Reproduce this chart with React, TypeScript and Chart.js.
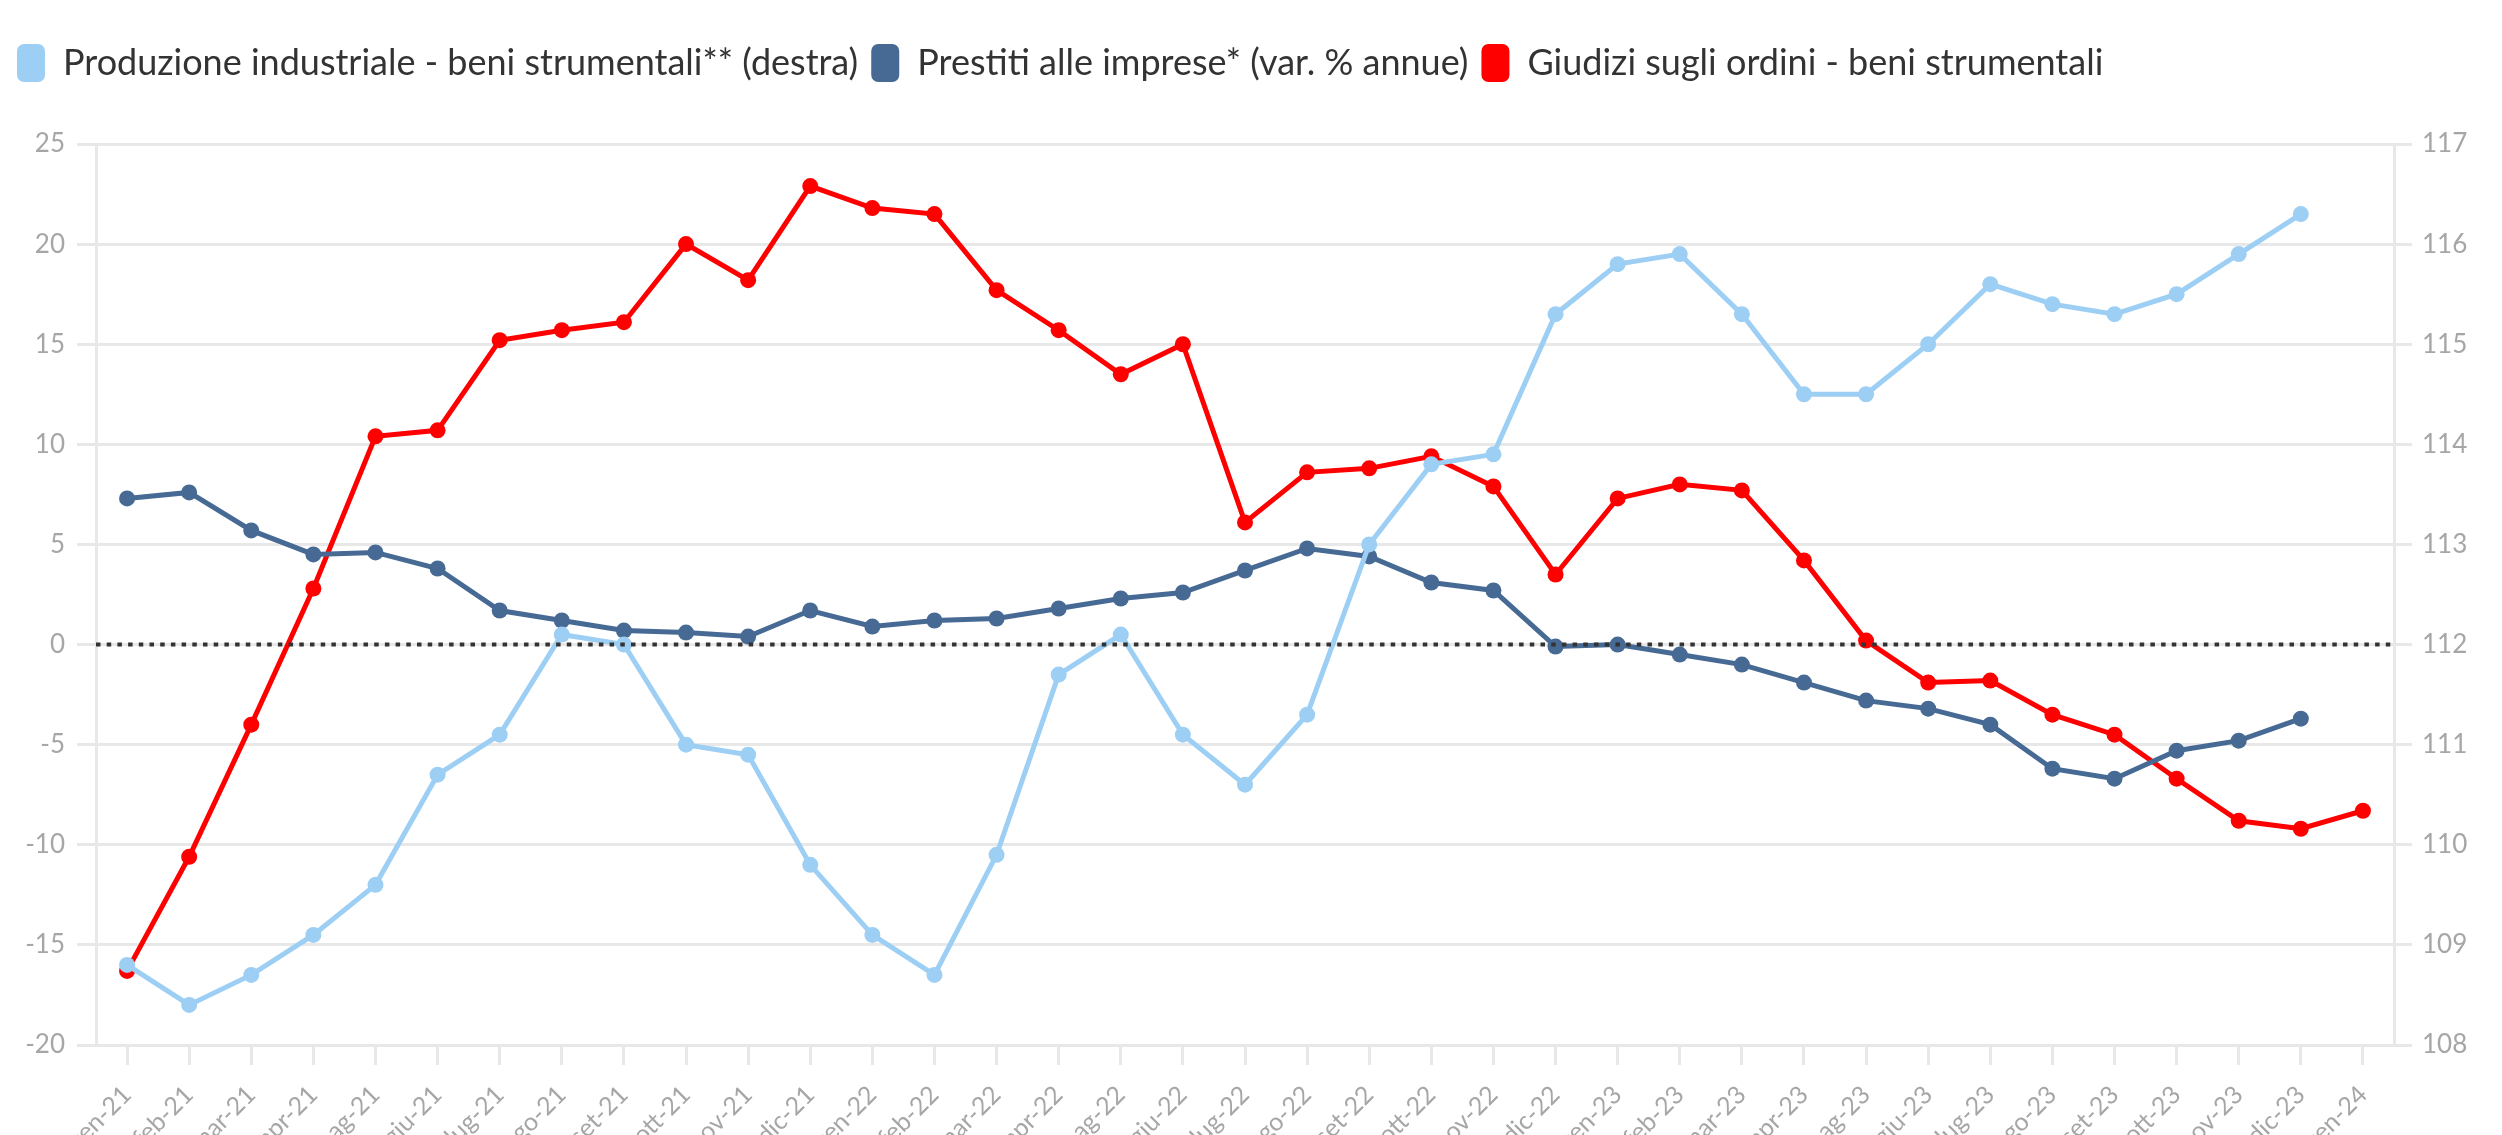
import React, { useEffect, useRef } from 'react';
import { Chart, registerables } from 'chart.js';

Chart.register(...registerables);

const categories = [
  'gen-21', 'feb-21', 'mar-21', 'apr-21', 'mag-21', 'giu-21', 'lug-21', 'ago-21', 'set-21', 'ott-21', 'nov-21', 'dic-21',
  'gen-22', 'feb-22', 'mar-22', 'apr-22', 'mag-22', 'giu-22', 'lug-22', 'ago-22', 'set-22', 'ott-22', 'nov-22', 'dic-22',
  'gen-23', 'feb-23', 'mar-23', 'apr-23', 'mag-23', 'giu-23', 'lug-23', 'ago-23', 'set-23', 'ott-23', 'nov-23', 'dic-23',
  'gen-24',
];

// Produzione industriale - beni strumentali (right axis)
const produzione = [
  108.8, 108.4, 108.7, 109.1, 109.6, 110.7, 111.1, 112.1, 112.0, 111.0, 110.9, 109.8,
  109.1, 108.7, 109.9, 111.7, 112.1, 111.1, 110.6, 111.3, 113.0, 113.8, 113.9, 115.3,
  115.8, 115.9, 115.3, 114.5, 114.5, 115.0, 115.6, 115.4, 115.3, 115.5, 115.9, 116.3,
  null,
];

// Prestiti alle imprese (left axis)
const prestiti = [
  7.3, 7.6, 5.7, 4.5, 4.6, 3.8, 1.7, 1.2, 0.7, 0.6, 0.4, 1.7,
  0.9, 1.2, 1.3, 1.8, 2.3, 2.6, 3.7, 4.8, 4.4, 3.1, 2.7, -0.1,
  0.0, -0.5, -1.0, -1.9, -2.8, -3.2, -4.0, -6.2, -6.7, -5.3, -4.8, -3.7,
  null,
];

// Giudizi sugli ordini - beni strumentali (left axis)
const giudizi = [
  -16.3, -10.6, -4.0, 2.8, 10.4, 10.7, 15.2, 15.7, 16.1, 20.0, 18.2, 22.9,
  21.8, 21.5, 17.7, 15.7, 13.5, 15.0, 6.1, 8.6, 8.8, 9.4, 7.9, 3.5,
  7.3, 8.0, 7.7, 4.2, 0.2, -1.9, -1.8, -3.5, -4.5, -6.7, -8.8, -9.2,
  -8.3,
];

const seriesLabels = [
  'Produzione industriale - beni strumentali** (destra)',
  'Prestiti alle imprese* (var. % annue)',
  'Giudizi sugli ordini - beni strumentali',
];

const FONT = 'Lato, "Noto Sans", sans-serif';
const GRID = '#e8e8e8';
const TICK = '#a6a6a6';

export default function App() {
  const ref = useRef<HTMLCanvasElement | null>(null);

  useEffect(() => {
    const canvas = ref.current;
    if (!canvas) return;

    const legendSpacer = {
      id: 'legendSpacer',
      beforeLayout(chart: any) {
        const lg = chart.legend;
        if (lg && !lg.__patched) {
          const f = lg.fit;
          lg.fit = function (this: any) {
            f.call(this);
            this.height += 52;
          };
          lg.__patched = true;
        }
      },
    };

    const zeroLine = {
      id: 'zeroLine',
      afterDatasetsDraw(chart: any) {
        const y = chart.scales.y.getPixelForValue(0);
        const { left, right } = chart.chartArea;
        const ctx = chart.ctx;
        ctx.save();
        ctx.strokeStyle = '#333333';
        ctx.lineWidth = 4;
        ctx.setLineDash([4.5, 6.2]);
        ctx.beginPath();
        ctx.moveTo(left, y);
        ctx.lineTo(right, y);
        ctx.stroke();
        ctx.restore();
      },
    };

    const chart = new Chart(canvas, {
      type: 'line',
      data: {
        labels: categories,
        datasets: [
          {
            label: seriesLabels[0],
            data: produzione,
            yAxisID: 'y1',
            borderColor: '#9dcff4',
            backgroundColor: '#9dcff4',
            borderWidth: 5,
            pointRadius: 8,
            pointBorderWidth: 0,
            tension: 0,
          },
          {
            label: seriesLabels[1],
            data: prestiti,
            yAxisID: 'y',
            borderColor: '#476a94',
            backgroundColor: '#476a94',
            borderWidth: 5,
            pointRadius: 8,
            pointBorderWidth: 0,
            tension: 0,
          },
          {
            label: seriesLabels[2],
            data: giudizi,
            yAxisID: 'y',
            borderColor: '#ff0000',
            backgroundColor: '#ff0000',
            borderWidth: 5,
            pointRadius: 8,
            pointBorderWidth: 0,
            tension: 0,
          },
        ],
      },
      options: {
        responsive: false,
        animation: false,
        maintainAspectRatio: false,
        layout: { padding: { top: 31, left: 4, right: 0, bottom: 0 } },
        plugins: {
          tooltip: { enabled: false },
          legend: {
            position: 'top',
            align: 'start',
            labels: {
              font: { family: FONT, size: 36 },
              color: '#333333',
              boxWidth: 28,
              boxHeight: 38,
              padding: 13,
              useBorderRadius: true,
              borderRadius: 7,
              generateLabels: (c: any) =>
                Chart.defaults.plugins.legend.labels
                  .generateLabels(c)
                  .map((l: any) => ({ ...l, lineWidth: 0 })),
            },
          },
        },
        scales: {
          x: {
            offset: true,
            grid: {
              display: true,
              drawOnChartArea: false,
              drawTicks: true,
              tickLength: 20,
              color: GRID,
              lineWidth: 3,
            },
            border: { display: true, color: GRID, width: 3 },
            ticks: {
              autoSkip: false,
              maxRotation: 45,
              minRotation: 45,
              padding: 15,
              color: TICK,
              font: { family: FONT, size: 25 },
            },
            afterFit(scale: any) {
              scale.height = 90;
            },
          },
          y: {
            position: 'left',
            min: -20,
            max: 25,
            ticks: {
              stepSize: 5,
              padding: 12,
              color: TICK,
              font: { family: FONT, size: 26 },
            },
            grid: { color: GRID, lineWidth: 3, tickLength: 19 },
            border: { display: true, color: GRID, width: 3 },
            afterFit(scale: any) {
              scale.width = 92;
            },
          },
          y1: {
            position: 'right',
            min: 108,
            max: 117,
            ticks: {
              stepSize: 1,
              padding: 10,
              color: TICK,
              font: { family: FONT, size: 26 },
            },
            grid: {
              drawOnChartArea: false,
              color: GRID,
              lineWidth: 3,
              tickLength: 18,
            },
            border: { display: true, color: GRID, width: 3 },
            afterFit(scale: any) {
              scale.width = 108;
            },
          },
        },
      },
      plugins: [legendSpacer, zeroLine],
    } as any);

    return () => chart.destroy();
  }, []);

  return (
    <canvas
      ref={ref}
      width={2502}
      height={1135}
      style={{ position: 'absolute', left: 0, top: 0, width: '2502px', height: '1135px', display: 'block' }}
    />
  );
}
